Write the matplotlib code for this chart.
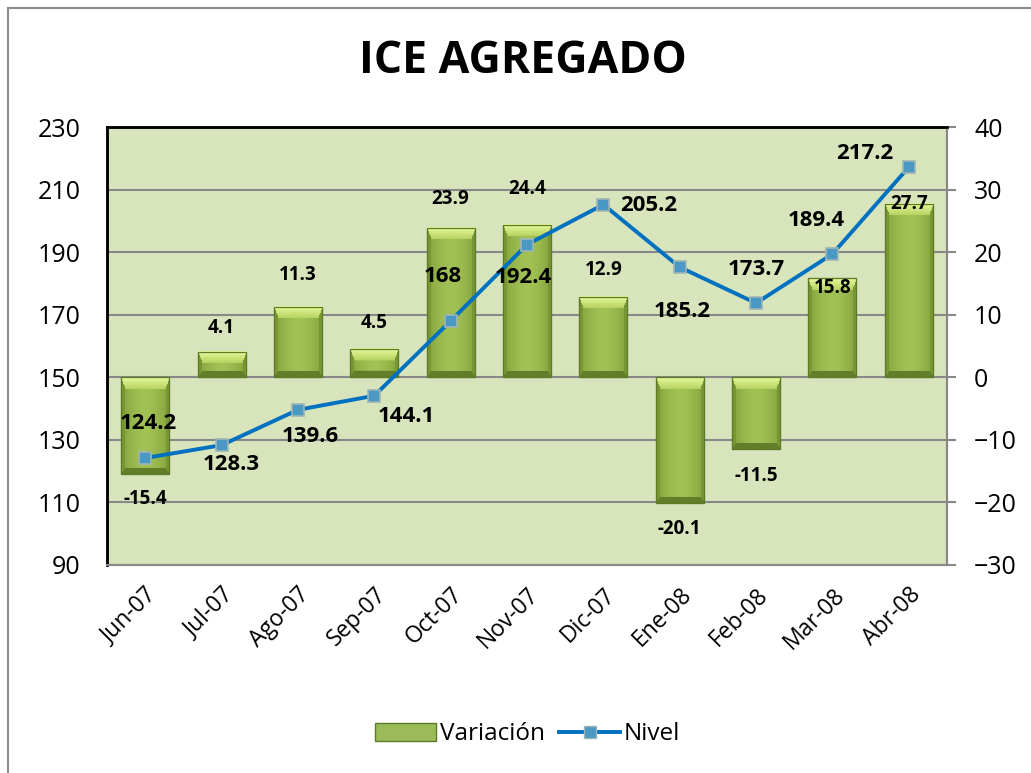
import matplotlib
matplotlib.use("Agg")
import matplotlib.pyplot as plt
import numpy as np
from matplotlib.patches import Patch, Rectangle
from matplotlib.lines import Line2D
import matplotlib.colors as mcolors

plt.rcParams['font.family'] = ['Open Sans', 'DejaVu Sans']

# data
months = ["Jun-07", "Jul-07", "Ago-07", "Sep-07", "Oct-07", "Nov-07",
          "Dic-07", "Ene-08", "Feb-08", "Mar-08", "Abr-08"]
variacion = [-15.4, 4.1, 11.3, 4.5, 23.9, 24.4, 12.9, -20.1, -11.5, 15.8, 27.7]
nivel = [124.2, 128.3, 139.6, 144.1, 168, 192.4, 205.2, 185.2, 173.7, 189.4, 217.2]
nivel_labels = ["124.2", "128.3", "139.6", "144.1", "168", "192.4",
                "205.2", "185.2", "173.7", "189.4", "217.2"]

# label offsets in points (style only)
nivel_off = [(2, 25), (7, -14), (9, -19), (23, -15), (-6, 32), (-3, -24),
             (33, -1), (2, -32), (0, 24), (-12, 24), (-32, 10)]
var_off = [(0, -18), (0, 17), (0, 23), (0, 19), (0, 21), (0, 26),
           (0, 19), (0, -19), (0, -19), (0, -7), (0, 0)]

fig = plt.figure(figsize=(10.31, 7.73), dpi=100)
ax = fig.add_axes([0.1038, 0.2691, 0.8147, 0.5666])
ax2 = ax.twinx()

x = np.arange(len(months))
bw = 0.63

ax.set_facecolor("#d8e4bc")
ax.set_xlim(-0.5, len(months) - 0.5)
ax.set_ylim(-30, 40)
ax2.set_ylim(90, 230)

bars = ax.bar(x, variacion, width=bw, color="#9bbb59", edgecolor="#5d7a26",
              linewidth=0.8, zorder=2)


def rgb(c):
    return np.array(mcolors.to_rgb(c))


def bevel_image(W, H):
    # beveled green bar, built in pixel units
    W, H = max(int(round(W)), 2), max(int(round(H)), 2)
    yy, xx = np.mgrid[0:H, 0:W] + 0.5
    dt, db, dl, dr = yy, H - yy, xx, W - xx
    bt = min(12.0, H * 0.45)
    bs, bb = 4.5, 6.0
    t = np.abs(xx - W / 2) / (W / 2)
    center, edge = rgb("#a2c256"), rgb("#82a13a")
    img = center + (edge - center) * (t ** 1.6)[..., None]
    ft, fs, fb = dt / bt, np.minimum(dl, dr) / bs, db / bb
    top = (ft < 1) & (ft <= fs)
    side = (fs < 1) & (fs < ft) & (fs <= fb)
    bot = (fb < 1) & (fb < fs) & ~top
    tl, td = rgb("#eafa9e"), rgb("#b5d360")
    img[top] = tl + (td - tl) * ft[top][..., None]
    img[side] = rgb("#789633")
    img[bot] = rgb("#617f29")
    return img


trans = ax.transData
for b in bars:
    x0, w = b.get_x(), b.get_width()
    y0, h = b.get_y(), b.get_height()
    lo, hi = min(y0, y0 + h), max(y0, y0 + h)
    (px0, py0), (px1, py1) = trans.transform([(x0, lo), (x0 + w, hi)])
    img = bevel_image(px1 - px0, py1 - py0)
    ax.imshow(img, extent=(x0, x0 + w, lo, hi), aspect="auto", origin="upper",
              interpolation="bilinear", zorder=2.1)
    ax.add_patch(Rectangle((x0, lo), w, hi - lo, fill=False,
                           edgecolor="#5d7a26", linewidth=0.9, zorder=2.3))

ax.set_xlim(-0.5, len(months) - 0.5)
ax.set_ylim(-30, 40)

ax.yaxis.tick_right()
ax.set_yticks(np.arange(-30, 41, 10))
ax.grid(axis="y", color="#888888", linewidth=1.5, zorder=1)
ax.set_axisbelow(True)

for xi, v, off in zip(x, variacion, var_off):
    ax.annotate(f"{v}", (xi, v), xytext=off, textcoords="offset points",
                ha="center", va="center", fontsize=13.5, fontweight="bold",
                zorder=6)

ax2.plot(x, nivel, color="#0070c0", linewidth=2.8, marker="s", markersize=8,
         markerfacecolor="#4a98c4", markeredgecolor="#9fb5b5",
         markeredgewidth=1.2, zorder=5)
ax2.yaxis.tick_left()
ax2.set_yticks(np.arange(90, 231, 20))
for xi, v, lab, off in zip(x, nivel, nivel_labels, nivel_off):
    ax2.annotate(lab, (xi, v), xytext=off, textcoords="offset points",
                 ha="center", va="center", fontsize=16, fontweight="bold",
                 zorder=6)

ax.set_xticks(x)
ax.set_xticklabels(months, rotation=45, ha="right", rotation_mode="anchor",
                   fontsize=16.5)
ax.tick_params(axis="x", length=0, pad=13)
ax.tick_params(axis="y", labelsize=18, length=6.5, color="#888888", width=1.5,
               pad=13)
ax2.tick_params(axis="y", labelsize=18, length=0, pad=19)

for a in (ax, ax2):
    a.spines["left"].set_color("black")
    a.spines["left"].set_linewidth(1.8)
    a.spines["top"].set_color("black")
    a.spines["top"].set_linewidth(1.8)
    a.spines["right"].set_color("#888888")
    a.spines["right"].set_linewidth(1.5)
    a.spines["bottom"].set_color("#888888")
    a.spines["bottom"].set_linewidth(1.5)

fig.text(0.507, 0.921, "ICE AGREGADO", ha="center", va="center",
         fontsize=32, fontweight="bold")

handles = [
    Patch(facecolor="#9bbb59", edgecolor="#5d7a26", label="Variación"),
    Line2D([0], [0], color="#0070c0", linewidth=2.8, marker="s", markersize=8,
           markerfacecolor="#4a98c4", markeredgecolor="#9fb5b5",
           label="Nivel"),
]
fig.legend(handles=handles, loc="center", bbox_to_anchor=(0.512, 0.05),
           ncol=2, frameon=False, fontsize=17.5, handlelength=2.5,
           handleheight=0.75, columnspacing=0.6, handletextpad=0.15)

fig.patches.append(Rectangle((0.008, -0.05), 1.2, 1.04, transform=fig.transFigure,
                             fill=False, edgecolor="#8c8c8c", linewidth=1.5))

fig.savefig("out.png", dpi=100)
